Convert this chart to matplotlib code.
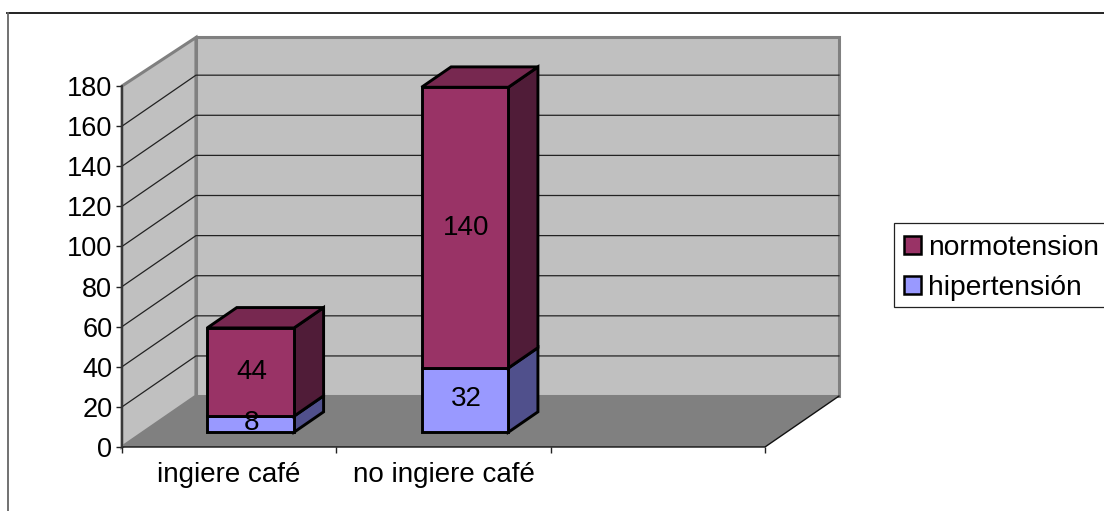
import matplotlib
matplotlib.use("Agg")
import matplotlib.pyplot as plt
from matplotlib.lines import Line2D
from matplotlib.patches import Patch, Polygon, Rectangle

plt.rcParams['font.family'] = ['Liberation Sans', 'DejaVu Sans']

categories = ["ingiere café", "no ingiere café", ""]
normotension = [44, 140]
hipertension = [8, 32]
y_ticks = [0, 20, 40, 60, 80, 100, 120, 140, 160, 180]

W, H = 1104, 511

# shear used for the fake depth, in data units
DEPTH_X = 0.345
DEPTH_Y = 25.4
BAR_WIDTH = 0.405
BAR_START = 0.29   # bars sit a little behind the front of the floor
BAR_END = 0.69
WALL_TOP = 178.8   # the back wall stops just under the last gridline

MAROON = "#993366"
MAROON_SIDE = "#501C38"
MAROON_TOP = "#772850"
BLUE = "#9999FF"
BLUE_SIDE = "#50508C"
WALL = "#C0C0C0"
FLOOR = "#808080"


def shift(x, y, d):
    return (x + d * DEPTH_X, y + d * DEPTH_Y)


def poly(ax, pts, face, edge="none", lw=0, z=1):
    ax.add_patch(Polygon(pts, closed=True, facecolor=face, edgecolor=edge, linewidth=lw,
                         joinstyle="miter", clip_on=False, zorder=z))


def draw_box(ax, x, y0, y1, front, side, top=None, z=5):
    x0, x1 = x - BAR_WIDTH / 2, x + BAR_WIDTH / 2
    a, b = BAR_START, BAR_END
    poly(ax, [shift(x1, y0, a), shift(x1, y0, b), shift(x1, y1, b), shift(x1, y1, a)],
         side, "black", 2.1, z)
    if top is not None:
        poly(ax, [shift(x0, y1, a), shift(x1, y1, a), shift(x1, y1, b), shift(x0, y1, b)],
             top, "black", 2.1, z)
    poly(ax, [shift(x0, y0, a), shift(x1, y0, a), shift(x1, y1, a), shift(x0, y1, a)],
         front, "black", 2.1, z + 1)


fig = plt.figure(figsize=(W / 100, H / 100), dpi=100)
fig.patch.set_facecolor("white")

# outer chart frame, only the top and left sides fall on the canvas
fig.add_artist(Line2D([7 / W, 1], [1 - 13 / H, 1 - 13 / H], color="#111111", lw=1.3))
fig.add_artist(Line2D([7.5 / W, 7.5 / W], [0, 1 - 13 / H], color="#666666", lw=1.3))

ax = fig.add_axes([122 / W, 1 - 447 / H, (765 - 122) / W, (447 - 86) / H])
ax.set_xlim(0, 3)
ax.set_ylim(0, 180)
ax.patch.set_visible(False)
for s in ax.spines.values():
    s.set_visible(False)

# back wall and left wall, then the floor on top of their lower edges
back_top = WALL_TOP
poly(ax, [shift(0, 0, 1), shift(3, 0, 1), shift(3, back_top, 1), shift(0, back_top, 1)], WALL, FLOOR, 2.2)
poly(ax, [shift(0, 0, 0), shift(0, 0, 1), shift(0, back_top, 1), shift(0, 180, 0)], WALL, FLOOR, 2.2)
poly(ax, [shift(0, 0, 0), shift(3, 0, 0), shift(3, 0, 1), shift(0, 0, 1)], FLOOR)

for t in y_ticks[1:-1]:
    xs, ys = zip(shift(0, t, 0), shift(0, t, 1), shift(3, t, 1))
    ax.plot(xs, ys, color="#222222", lw=0.9, clip_on=False, zorder=2)

# front edges of the floor and the value axis
xs, ys = zip(shift(0, 0, 0), shift(3, 0, 0), shift(3, 0, 1))
ax.plot(xs, ys, color="#111111", lw=1.0, clip_on=False, zorder=3)
ax.plot([0, 0], [0, 180], color="#333333", lw=1.3, clip_on=False, zorder=3)

for i in range(len(normotension)):
    x = i + 0.5
    h = hipertension[i]
    n = normotension[i]
    draw_box(ax, x, 0, h, BLUE, BLUE_SIDE, z=5)
    draw_box(ax, x, h, h + n, MAROON, MAROON_SIDE, MAROON_TOP, z=7)
    lx, ly = shift(x, h / 2, BAR_START)
    ax.text(lx + 0.005, ly + 0.4, str(h), ha="center", va="center", fontsize=20, color="black", zorder=10)
    lx, ly = shift(x, h + n / 2, BAR_START)
    ax.text(lx + 0.005, ly, str(n), ha="center", va="center", fontsize=20, color="black", zorder=10)

ax.set_yticks(y_ticks)
ax.tick_params(axis="y", length=4.5, width=1.0, pad=2.5, labelsize=19.5, color="#222222")
ax.set_xticks([0, 1, 2, 3])
ax.set_xticklabels([])
ax.set_xticks([0.5, 1.5, 2.5], minor=True)
ax.set_xticklabels(categories, minor=True)
ax.tick_params(axis="x", which="major", length=4.5, width=1.0, color="#222222")
ax.tick_params(axis="x", which="minor", length=0, pad=11, labelsize=20)

# legend box is drawn apart so the rows can sit off-centre in it
fig.add_artist(Rectangle((894 / W, 1 - 307 / H), 1, 84 / H, transform=fig.transFigure,
                         facecolor="white", edgecolor="#222222", linewidth=0.9))
handles = [Patch(facecolor=MAROON, edgecolor="black", linewidth=1.8, label="normotension"),
           Patch(facecolor=BLUE, edgecolor="black", linewidth=1.8, label="hipertensión")]
leg = fig.legend(handles=handles, loc="upper left", bbox_to_anchor=(892 / W, 1 - 223 / H),
                 fontsize=20.3, frameon=False,
                 borderaxespad=0, borderpad=0.42, handlelength=0.6, handleheight=0.6,
                 handletextpad=0.26, labelspacing=0.5)

fig.savefig("out.png", dpi=100)
